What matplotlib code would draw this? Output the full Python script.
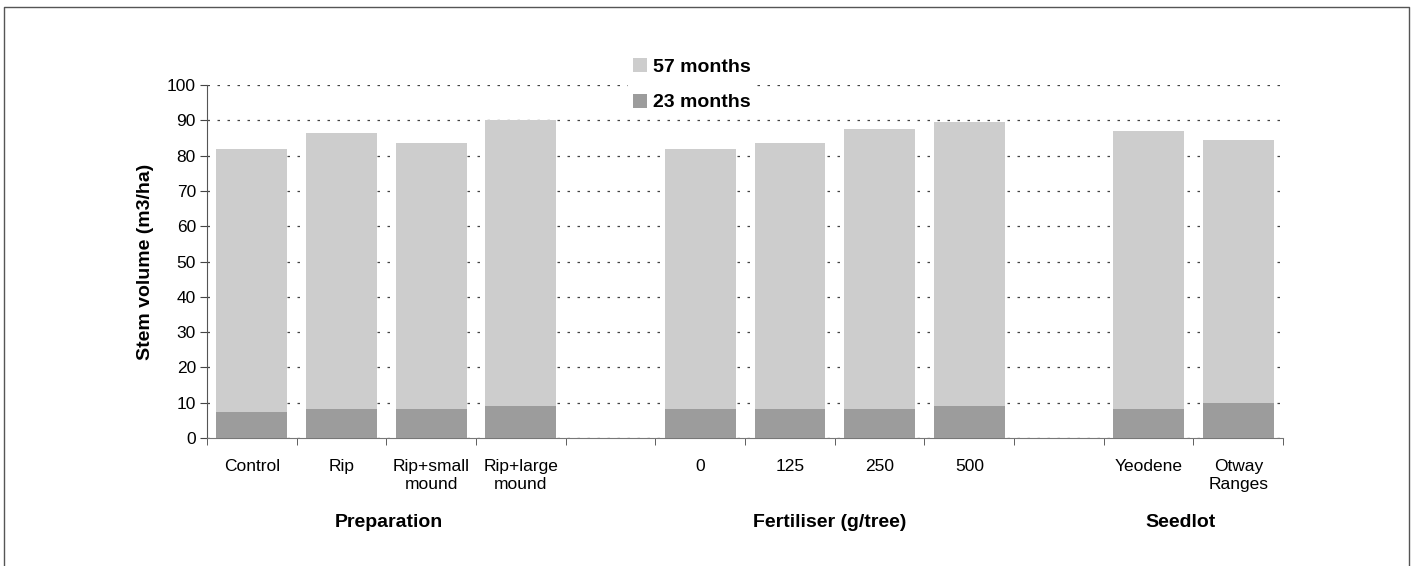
# -*- coding: utf-8 -*-
# Stem volume by treatment, 23 and 57 months
import numpy as np
import matplotlib
matplotlib.use('Agg')
import matplotlib.pyplot as plt
from matplotlib.patches import Patch
from matplotlib.lines import Line2D

plt.rcParams['font.family'] = ['Liberation Sans', 'DejaVu Sans']

# data (12 slots, '' = gap between groups)
labels = ['Control', 'Rip', 'Rip+small\nmound', 'Rip+large\nmound', '',
          '0', '125', '250', '500', '',
          'Yeodene', 'Otway\nRanges']
vol_57 = [82, 86.5, 83.5, 90, np.nan, 82, 83.5, 87.5, 89.5, np.nan, 87, 84.5]
vol_23 = [7.3, 8.2, 8.2, 9.2, np.nan, 8.3, 8.3, 8.3, 9.0, np.nan, 8.3, 9.8]
groups = ['Preparation', 'Fertiliser (g/tree)', 'Seedlot']
group_pos = [1.53, 6.44, 10.35]

fig = plt.figure(figsize=(14.16, 5.66), dpi=100)
ax = fig.add_axes([0.1462, 0.2261, 0.760, 0.6237])

x = np.arange(len(labels))
c57 = '#cdcdcd'
c23 = '#9c9c9c'

# dotted grid behind bars
for yv in range(0, 101, 10):
    ax.axhline(yv, color='#444444', lw=0.9, ls=(0, (2, 6)), zorder=0)

ax.bar(x, vol_57, width=0.79, color=c57, zorder=2)
ax.bar(x, vol_23, width=0.79, color=c23, zorder=3)

ax.set_xlim(-0.5, len(labels) - 0.5)
ax.set_ylim(0, 100)
ax.set_yticks(range(0, 101, 10))
ax.set_xticks(x)
ax.set_xticklabels(labels, fontsize=12.5, linespacing=1.3)
ax.tick_params(axis='x', length=0, pad=15)
ax.set_xticks(np.arange(-0.5, len(labels), 1), minor=True)
ax.tick_params(axis='x', which='minor', length=5, direction='out', color='#444444')
ax.tick_params(axis='y', labelsize=12.5, length=5, color='#444444', pad=3)

for s in ['top', 'right']:
    ax.spines[s].set_visible(False)
ax.spines['left'].set_color('#555555')
ax.spines['bottom'].set_color('#777777')
ax.spines['bottom'].set_linewidth(0.8)

ax.set_ylabel('Stem volume (m3/ha)', fontsize=14, fontweight='bold', labelpad=9)

for g, p in zip(groups, group_pos):
    ax.text(p, -0.215, g, transform=ax.get_xaxis_transform(), ha='center', va='top',
            fontsize=14, fontweight='bold')

handles = [Patch(facecolor=c57, label='57 months'), Patch(facecolor=c23, label='23 months')]
fig.legend(handles=handles, loc='upper left', bbox_to_anchor=(0.4365, 0.923),
           frameon=True, facecolor='white', edgecolor='none', framealpha=1,
           fancybox=False, borderpad=0.25,
           handlelength=0.75, handleheight=0.75, handletextpad=0.3,
           labelspacing=0.9, prop={'size': 14, 'weight': 'bold'})

# page frame
fig.add_artist(Line2D([0.003, 0.003, 0.995, 0.995], [0.0, 0.988, 0.988, 0.0],
                      transform=fig.transFigure, color='#555555', lw=1))

fig.savefig('out.png', dpi=100)
